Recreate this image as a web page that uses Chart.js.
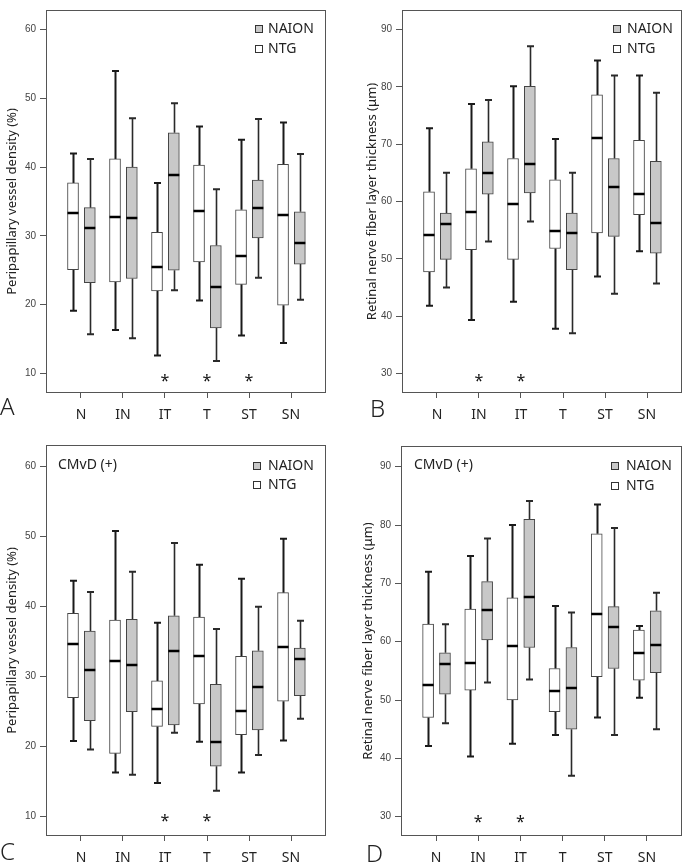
<!DOCTYPE html>
<html><head><meta charset="utf-8">
<script src="https://cdn.jsdelivr.net/npm/chart.js@4"></script>
<style>
html,body{margin:0;padding:0;background:#fff}
body{width:685px;height:864px;position:relative;overflow:hidden;font-family:'Noto Sans',sans-serif}
canvas{position:absolute;display:block}
.lt{position:absolute;font-family:'Noto Sans',sans-serif;font-size:24px;line-height:24px;color:#222;font-weight:300}
</style></head><body>
<canvas id="cA" width="342" height="432" style="left:0;top:0"></canvas>
<canvas id="cB" width="343" height="432" style="left:342px;top:0"></canvas>
<canvas id="cC" width="342" height="432" style="left:0;top:432px"></canvas>
<canvas id="cD" width="343" height="432" style="left:342px;top:432px"></canvas>
<div class="lt" style="left:0;top:394px">A</div>
<div class="lt" style="left:370px;top:396px">B</div>
<div class="lt" style="left:0;top:839px">C</div>
<div class="lt" style="left:366px;top:841px">D</div>
<script>
// ---- data ----
const categories = ['N','IN','IT','T','ST','SN'];
const seriesNames = ['NAION','NTG'];
const yTicksVD = [10,20,30,40,50,60];
const yTicksRNFL = [30,40,50,60,70,80,90];
// five-number summaries per category: [min, Q1, median, Q3, max]
const vdAllNTG   = [[19.1,25.1,33.3,37.7,42.0],[16.3,23.3,32.7,41.2,54.0],[12.6,22.0,25.4,30.5,37.7],[20.6,26.2,33.6,40.3,45.9],[15.5,22.95,27.0,33.8,44.0],[14.4,19.9,33.0,40.4,46.5]];
const vdAllNAION = [[15.7,23.2,31.1,34.1,41.2],[15.1,23.8,32.6,40.0,47.1],[22.1,25.0,38.9,45.0,49.3],[11.8,16.6,22.5,28.6,36.8],[23.9,29.7,34.0,38.1,47.0],[20.7,25.9,29.0,33.5,41.9]];
const rnflAllNTG   = [[41.8,47.7,54.2,61.7,72.8],[39.3,51.6,58.1,65.7,77.0],[42.5,49.9,59.5,67.5,80.1],[37.8,51.8,54.9,63.8,70.9],[46.9,54.5,71.0,78.6,84.6],[51.3,57.7,61.3,70.7,82.0]];
const rnflAllNAION = [[45.0,49.9,56.0,58.0,65.0],[53.0,61.3,65.0,70.4,77.7],[56.5,61.5,66.5,80.1,87.1],[37.0,48.1,54.5,58.0,65.0],[43.9,53.9,62.5,67.5,82.0],[45.7,51.0,56.3,67.0,79.0]];
const vdCmvdNTG   = [[20.8,27.0,34.6,39.05,43.7],[16.3,19.05,32.3,38.1,50.8],[14.8,22.9,25.4,29.4,37.7],[20.7,26.1,33.0,38.5,46.0],[16.3,21.7,25.1,32.9,44.0],[20.9,26.5,34.2,42.0,49.7]];
const vdCmvdNAION = [[19.6,23.7,30.9,36.5,42.1],[16.0,25.0,31.6,38.2,45.0],[22.0,23.1,33.7,38.7,49.1],[13.7,17.2,20.7,28.9,36.8],[18.8,22.4,28.5,33.7,40.0],[24.0,27.3,32.5,34.1,38.0]];
const rnflCmvdNTG   = [[42.1,47.0,52.5,63.0,72.0],[40.3,51.7,56.3,65.6,74.7],[42.5,50.0,59.2,67.5,80.0],[44.0,48.0,51.5,55.4,66.1],[47.0,54.0,64.7,78.5,83.5],[50.4,53.4,58.1,62.0,62.7]];
const rnflCmvdNAION = [[46.0,51.0,56.1,58.1,63.0],[53.0,60.3,65.4,70.3,77.7],[53.5,59.0,67.6,81.0,84.1],[37.0,45.0,52.0,59.0,65.0],[44.0,55.4,62.5,66.0,79.5],[45.0,54.7,59.5,65.3,68.4]];
const sigA = ['IT','T','ST'];
const sigB = ['IN','IT'];
const sigC = ['IT','T'];
const sigD = ['IN','IT'];

// ---- styling ----
const FONT = "'Noto Sans', sans-serif";
const NAION_FILL = '#c8c8c8';
const BOX_W = 11;
const OFF_NTG = -0.19, OFF_NAION = 0.21;

const boxPlugin = {
  id: 'boxExtras',
  beforeDatasetsDraw(chart) {
    const ctx = chart.ctx, xs = chart.scales.x, ys = chart.scales.y;
    ctx.save();
    chart.data.datasets.forEach(ds => {
      ds.stats.forEach((s, i) => {
        const x = Math.round(xs.getPixelForValue(i + ds.off)) + 0.5;
        ctx.strokeStyle = ds.whiskerColor; ctx.lineWidth = ds.whiskerWidth;
        ctx.beginPath();
        ctx.moveTo(x, ys.getPixelForValue(s[3])); ctx.lineTo(x, ys.getPixelForValue(s[4]));
        ctx.moveTo(x, ys.getPixelForValue(s[1])); ctx.lineTo(x, ys.getPixelForValue(s[0]));
        ctx.stroke();
        ctx.lineWidth = 2;
        ctx.beginPath();
        [s[0], s[4]].forEach(v => { const y = ys.getPixelForValue(v); ctx.moveTo(x - 3.5, y); ctx.lineTo(x + 3.5, y); });
        ctx.stroke();
      });
    });
    ctx.restore();
  },
  afterDatasetsDraw(chart) {
    const ctx = chart.ctx, xs = chart.scales.x, ys = chart.scales.y, a = chart.chartArea;
    const cfg = chart.options.plugins.boxExtras;
    ctx.save();
    // medians
    chart.data.datasets.forEach(ds => {
      ds.stats.forEach((s, i) => {
        const x = xs.getPixelForValue(i + ds.off);
        const y = Math.round(ys.getPixelForValue(s[2]));
        ctx.fillStyle = '#000';
        ctx.fillRect(x - BOX_W / 2, y - 1.25, BOX_W, 2.5);
      });
    });
    // frame
    ctx.strokeStyle = '#555'; ctx.lineWidth = 1;
    ctx.strokeRect(Math.round(a.left) + 0.5, Math.round(a.top) + 0.5, Math.round(a.right - a.left) - 1, Math.round(a.bottom - a.top) - 1);
    // significance stars
    ctx.fillStyle = '#111'; ctx.font = '16px ' + FONT; ctx.textAlign = 'center'; ctx.textBaseline = 'middle';
    cfg.sig.forEach(c => {
      const i = categories.indexOf(c);
      ctx.fillText('*', xs.getPixelForValue(i), ys.getPixelForValue(cfg.sigY) + 3);
    });
    // legend (NAION first, then NTG)
    ctx.textAlign = 'left'; ctx.font = '14px ' + FONT; ctx.textBaseline = 'middle';
    const order = [chart.data.datasets[1], chart.data.datasets[0]];
    order.forEach((ds, k) => {
      const y = Math.round(a.top + cfg.legY[k]);
      const sx = Math.round(a.right + cfg.legSx);
      ctx.fillStyle = ds.backgroundColor; ctx.fillRect(sx, y - 4, 8, 8);
      ctx.strokeStyle = '#333'; ctx.lineWidth = 1; ctx.strokeRect(sx + 0.5, y - 3.5, 7, 7);
      ctx.fillStyle = '#222'; ctx.fillText(ds.label, a.right + cfg.legTx, y + 0.5);
    });
    if (cfg.note) {
      ctx.fillText(cfg.note, a.left + cfg.noteX, a.top + cfg.noteY);
    }
    ctx.restore();
  }
};

function makePanel(p) {
  const datasets = [
    { label: seriesNames[1], stats: p.ntg, off: OFF_NTG, whiskerColor: '#1a1a1a', whiskerWidth: 2,
      data: p.ntg.map((s, i) => ({ x: i + OFF_NTG, y: [s[1], s[3]] })),
      backgroundColor: '#ffffff', borderColor: '#444', borderWidth: 1, borderSkipped: false,
      barThickness: BOX_W, grouped: false },
    { label: seriesNames[0], stats: p.naion, off: OFF_NAION, whiskerColor: '#2a2a2a', whiskerWidth: 1.6,
      data: p.naion.map((s, i) => ({ x: i + OFF_NAION, y: [s[1], s[3]] })),
      backgroundColor: NAION_FILL, borderColor: '#444', borderWidth: 1, borderSkipped: false,
      barThickness: BOX_W, grouped: false }
  ];
  new Chart(document.getElementById(p.canvas), {
    type: 'bar',
    data: { datasets },
    plugins: [boxPlugin],
    options: {
      responsive: false, animation: false, events: [],
      layout: { autoPadding: false, padding: p.pad },
      plugins: {
        legend: { display: false }, tooltip: { enabled: false },
        boxExtras: { sig: p.sig, sigY: p.sigY, legY: p.legY, legSx: p.legSx, legTx: p.legTx, note: p.note, noteX: p.noteX, noteY: p.noteY }
      },
      scales: {
        x: {
          type: 'linear', min: -0.833, max: 5.833, offset: false,
          afterFit: s => { s.height = p.xHeight; },
          afterBuildTicks: s => { s.ticks = categories.map((c, i) => ({ value: i })); },
          grid: { offset: false, drawOnChartArea: false, drawTicks: true, tickLength: 5, color: '#555', lineWidth: 1 },
          border: { display: false },
          ticks: { callback: v => categories[v], font: { size: 14, family: FONT }, color: '#222', padding: 9, maxRotation: 0, autoSkip: false }
        },
        y: {
          type: 'linear', min: p.yMin, max: p.yMax,
          afterFit: s => { s.width = p.yWidth; },
          afterBuildTicks: s => { s.ticks = p.yTicks.map(v => ({ value: v })); },
          grid: { offset: false, drawOnChartArea: false, drawTicks: true, tickLength: 6, color: '#555', lineWidth: 1 },
          border: { display: false },
          ticks: { font: { size: 10, family: "'Liberation Sans', sans-serif" }, color: '#444', padding: 4 },
          title: { display: true, text: p.title, font: { size: 13, family: FONT }, color: '#222', padding: { top: p.titlePad, bottom: 0 } }
        }
      }
    }
  });
}

makePanel({ canvas: 'cA', pad: { top: 3, right: 16, left: 0, bottom: 0 }, yWidth: 46, xHeight: 39,
  yMin: 7.14, yMax: 62.86, yTicks: yTicksVD, title: 'Peripapillary vessel density (%)', titlePad: 4,
  ntg: vdAllNTG, naion: vdAllNAION, sig: sigA, sigY: 9.3, legY: [18.7, 38.7], legSx: -71, legTx: -58, note: null });
makePanel({ canvas: 'cB', pad: { top: 3, right: 3, left: 0, bottom: 0 }, yWidth: 60, xHeight: 39,
  yMin: 26.57, yMax: 93.43, yTicks: yTicksRNFL, title: 'Retinal nerve fiber layer thickness (μm)', titlePad: 22,
  ntg: rnflAllNTG, naion: rnflAllNAION, sig: sigB, sigY: 29.1, legY: [18.7, 38.7], legSx: -69, legTx: -55, note: null });
makePanel({ canvas: 'cC', pad: { top: 13, right: 16, left: 0, bottom: 0 }, yWidth: 46, xHeight: 28,
  yMin: 7.24, yMax: 63.1, yTicks: yTicksVD, title: 'Peripapillary vessel density (%)', titlePad: 4,
  ntg: vdCmvdNTG, naion: vdCmvdNAION, sig: sigC, sigY: 9.8, legY: [20.7, 40], legSx: -73, legTx: -58, note: 'CMvD (+)', noteX: 12, noteY: 20 });
makePanel({ canvas: 'cD', pad: { top: 14, right: 3, left: 0, bottom: 0 }, yWidth: 59, xHeight: 28,
  yMin: 26.69, yMax: 93.55, yTicks: yTicksRNFL, title: 'Retinal nerve fiber layer thickness (μm)', titlePad: 18.5,
  ntg: rnflCmvdNTG, naion: rnflCmvdNAION, sig: sigD, sigY: 29.6, legY: [19.7, 39.7], legSx: -71, legTx: -56, note: 'CMvD (+)', noteX: 13, noteY: 19 });
</script>
</body></html>
